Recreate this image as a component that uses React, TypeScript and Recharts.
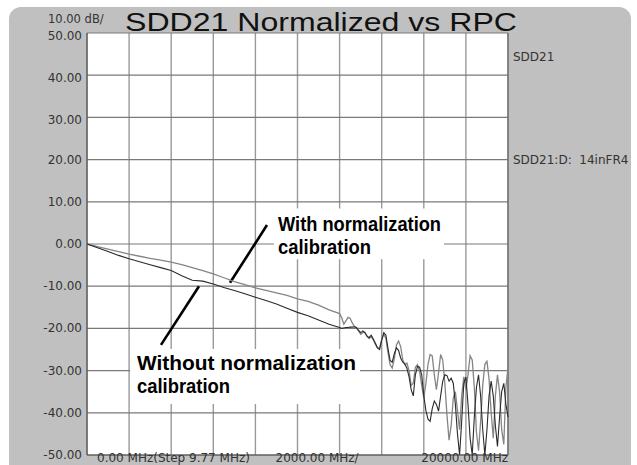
import React from "react";
import {
  LineChart,
  Line,
  XAxis,
  YAxis,
  CartesianGrid,
  ReferenceArea,
  ReferenceLine,
} from "recharts";

// Frequencies in MHz
const freqs = [
  0, 500, 1000, 1500, 2000, 2500, 3000, 3500, 4000, 4500, 5000, 5500, 6000,
  6500, 7000, 7500, 8000, 8500, 9000, 9500, 10000, 10500, 11000, 11500, 12000,
  12100, 12200, 12300, 12400, 12500, 12600, 12700, 12800, 12900, 13000,
  13100, 13200, 13300, 13400, 13500, 13600, 13700, 13800, 13900, 14000,
  14100, 14200, 14300, 14400, 14500, 14600, 14700, 14800, 14900, 15000,
  15100, 15200, 15300, 15400, 15500, 15600, 15700, 15800, 15900, 16000,
  16100, 16200, 16300, 16400, 16500, 16600, 16700, 16800, 16900, 17000,
  17100, 17200, 17300, 17400, 17500, 17600, 17700, 17800, 17900, 18000,
  18100, 18200, 18300, 18400, 18500, 18600, 18700, 18800, 18900, 19000,
  19100, 19200, 19300, 19400, 19500, 19600, 19700, 19800, 19900, 20000,
];

// With normalization calibration (gray trace), dB
const withNorm = [
  0, -0.6, -1.2, -1.8, -2.4, -2.9, -3.4, -3.8, -4.3, -4.9, -5.6, -6.3, -7.1,
  -8.0, -8.9, -9.6, -10.4, -11.0, -11.6, -12.2, -13.0, -13.6, -14.5, -15.6, -16.5,
  -17.5, -19.0, -18.2, -17.4, -17.6, -18.7, -19.5, -19.9, -20.6, -21.4,
  -21.0, -20.9, -21.9, -22.4, -21.9, -22.7, -23.8, -24.6, -24.6, -22.6,
  -21.4, -22.4, -25.8, -28.6, -29.4, -27.2, -23.9, -23.0, -24.3, -27.4,
  -28.6, -28.2, -30.0, -33.5, -33.0, -29.2, -28.6, -30.2, -33.5, -36.5,
  -33.0, -28.5, -26.2, -26.5, -31.0, -34.5, -30.5, -26.2, -27.5, -33.0,
  -40.5, -46.5, -43.0, -36.5, -35.0, -39.5, -44.0, -36.0, -31.5, -34.5,
  -31.0, -26.5, -27.5, -34.0, -44.5, -49.0, -42.0, -33.5, -28.5, -27.8,
  -32.0, -40.0, -46.0, -36.0, -31.0, -35.0, -44.0, -47.5, -34.0, -29.2,
];

// Without normalization calibration (dark trace), dB
const withoutNorm = [
  0, -0.9, -1.8, -2.7, -3.5, -4.2, -4.9, -5.6, -6.3, -7.5, -8.6, -8.8, -9.5,
  -10.3, -11.0, -11.8, -12.6, -13.4, -14.2, -15.2, -16.2, -17.0, -18.0, -19.0, -19.8,
  -20.0, -19.9, -19.8, -19.8, -19.7, -19.7, -19.6, -19.8, -20.5, -21.0,
  -20.6, -21.0, -21.8, -22.2, -21.6, -22.5, -23.5, -24.6, -25.0, -22.8,
  -21.0, -21.6, -24.8, -27.6, -28.0, -26.0, -24.6, -25.2, -27.0, -28.0,
  -28.4, -29.5, -31.5, -34.5, -36.0, -31.0, -29.0, -29.2, -31.0, -36.0,
  -39.5, -41.5, -42.0, -39.0, -37.2, -38.0, -39.6, -36.0, -32.5, -31.0,
  -31.2, -32.5, -31.8, -33.0, -38.0, -45.0, -50.0, -42.0, -33.0, -31.5,
  -38.0, -46.0, -50.0, -41.0, -34.0, -31.0, -36.0, -44.0, -50.0, -44.0,
  -36.0, -32.5, -36.0, -43.0, -48.0, -41.0, -35.0, -33.0, -38.0, -41.0,
];

const yTicks = [-50, -40, -30, -20, -10, 0, 10, 20, 30, 40, 50];
const xTicks = [0, 2000, 4000, 6000, 8000, 10000, 12000, 14000, 16000, 18000, 20000];
const xLabelValues = [0, 10000, 20000];
const xLabelTexts = ["0.00 MHz(Step 9.77 MHz)", "2000.00 MHz/", "20000.00 MHz"];

const data = freqs.map((f, i) => ({ f, w: withNorm[i], wo: withoutNorm[i] }));

const W = 637;
const H = 465;
const tickFont = "'DejaVu Sans', Verdana, sans-serif";
const annFont = "'Liberation Sans Narrow', 'Arial Narrow', 'Liberation Sans', Arial, sans-serif";

const YTick = (props: any) => {
  const { x, y, payload } = props;
  const v = Number(payload.value);
  const shift = v >= 30 ? 3 : 0;
  return (
    <text x={x} y={y + 4 + shift} textAnchor="end" fontFamily={tickFont} fontSize={12} fill="#333">
      {v.toFixed(2)}
    </text>
  );
};

const XTick = (props: any) => {
  const { x, y, payload } = props;
  const idx = xLabelValues.indexOf(payload.value);
  if (idx < 0) return <g />;
  const anchor = idx === 2 ? "end" : "start";
  const dx = idx === 0 ? 10 : idx === 1 ? -22 : 0;
  return (
    <text x={x + dx} y={y + 7} textAnchor={anchor} fontFamily={tickFont} fontSize={12} fill="#333">
      {xLabelTexts[idx]}
    </text>
  );
};

export default function App() {
  return (
    <div style={{ position: "absolute", left: 0, top: 0, width: W, height: H, background: "#fff" }}>
      <div
        style={{
          position: "absolute",
          left: 9,
          top: 7,
          width: 622,
          height: 470,
          background: "#c0c0c0",
          borderRadius: 12,
        }}
      />
      <div style={{ position: "absolute", left: 0, top: 0 }}>
        <LineChart width={W} height={H} data={data} margin={{ top: 33, right: 129, bottom: 0, left: 0 }}>
          <CartesianGrid horizontal={false} vertical={true} stroke="#9a9a9a" strokeWidth={1.4} fill="#ffffff" fillOpacity={1} />
          <CartesianGrid horizontal={true} vertical={false} stroke="#7a7a7a" strokeWidth={1.2} />
          <XAxis
            dataKey="f"
            type="number"
            domain={[0, 20000]}
            ticks={xTicks}
            height={10}
            tickLine={false}
            tickSize={0}
            tickMargin={0}
            axisLine={{ stroke: "#555", strokeWidth: 1.2 }}
            tick={<XTick />}
            interval={0}
          />
          <YAxis
            type="number"
            domain={[-50, 50]}
            ticks={yTicks}
            width={87}
            tickLine={false}
            tickSize={0}
            tickMargin={5}
            axisLine={{ stroke: "#555", strokeWidth: 1.2 }}
            tick={<YTick />}
            interval={0}
          />
          <ReferenceLine x={20000} stroke="#666" strokeWidth={1.2} />
          <ReferenceArea x1={8880} x2={16960} y1={-3.6} y2={8.4} fill="#ffffff" fillOpacity={1} stroke="none" />
          <ReferenceArea x1={2050} x2={12970} y1={-37.9} y2={-24.9} fill="#ffffff" fillOpacity={1} stroke="none" />
          <ReferenceLine
            segment={[{ x: 8551, y: 4.5 }, { x: 6793, y: -9.2 }]}
            stroke="#000"
            strokeWidth={2.6}
          />
          <ReferenceLine
            segment={[{ x: 5321, y: -10.0 }, { x: 3515, y: -23.9 }]}
            stroke="#000"
            strokeWidth={2.6}
          />
          <Line type="linear" dataKey="w" stroke="#858585" strokeWidth={1.3} dot={false} isAnimationActive={false} />
          <Line type="linear" dataKey="wo" stroke="#2a2a2a" strokeWidth={1.1} dot={false} isAnimationActive={false} />
        </LineChart>
      </div>
      <svg width={W} height={H} style={{ position: "absolute", left: 0, top: 0, pointerEvents: "none" }}>
        <text x={125} y={31} fontFamily="'Liberation Sans', Arial, sans-serif" fontSize={25} fill="#111" textLength={392} lengthAdjust="spacingAndGlyphs">
          SDD21 Normalized vs RPC
        </text>
        <text x={48} y={23} fontFamily={tickFont} fontSize={11.5} fill="#333">
          10.00 dB/
        </text>
        <text x={513} y={61} fontFamily={tickFont} fontSize={12} fill="#333">
          SDD21
        </text>
        <text x={513} y={164} fontFamily={tickFont} fontSize={12} fill="#333" style={{ whiteSpace: "pre" }}>
          {"SDD21:D:  14inFR4"}
        </text>
        <g fontFamily={annFont} fontWeight="bold" fontSize={20} fill="#000">
          <text x={278} y={231} textLength={163} lengthAdjust="spacingAndGlyphs">With normalization</text>
          <text x={278} y={254} textLength={93} lengthAdjust="spacingAndGlyphs">calibration</text>
          <text x={137} y={370} textLength={219} lengthAdjust="spacingAndGlyphs">Without normalization</text>
          <text x={137} y={393} textLength={93} lengthAdjust="spacingAndGlyphs">calibration</text>
        </g>
      </svg>
    </div>
  );
}
